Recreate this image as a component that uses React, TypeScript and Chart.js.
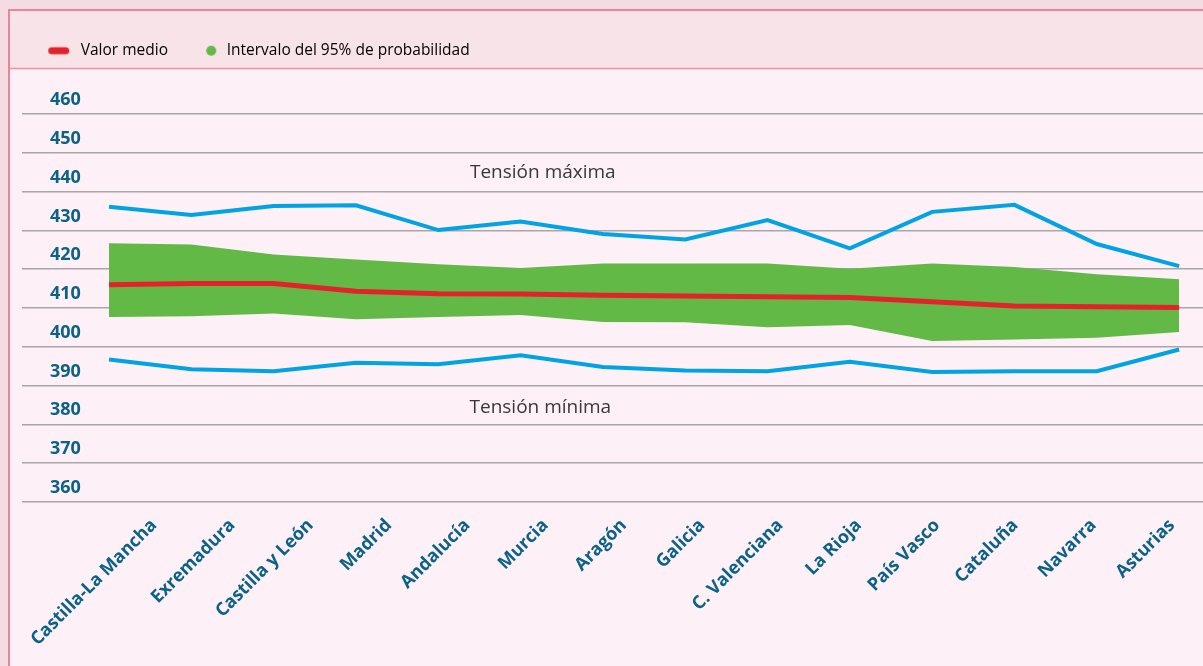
import React, { useEffect, useRef } from 'react';
import { Chart, registerables } from 'chart.js';

Chart.register(...registerables);

const regions = [
  'Castilla-La Mancha', 'Exremadura', 'Castilla y León', 'Madrid', 'Andalucía', 'Murcia', 'Aragón',
  'Galicia', 'C. Valenciana', 'La Rioja', 'País Vasco', 'Cataluña', 'Navarra', 'Asturias',
];
const tensionMaxima = [436.1, 434.0, 436.3, 436.5, 430.1, 432.3, 429.1, 427.7, 432.7, 425.4, 434.8, 436.6, 426.5, 420.8];
const tensionMinima = [396.7, 394.2, 393.7, 395.9, 395.5, 397.8, 394.8, 393.9, 393.7, 396.1, 393.5, 393.7, 393.7, 399.3];
const intervaloSuperior = [426.7, 426.4, 423.8, 422.5, 421.3, 420.3, 421.5, 421.5, 421.5, 420.1, 421.5, 420.6, 418.7, 417.4];
const intervaloInferior = [407.7, 407.9, 408.6, 407.1, 407.7, 408.2, 406.4, 406.3, 405.0, 405.6, 401.5, 401.9, 402.3, 403.8];
const valorMedio = [416.0, 416.3, 416.3, 414.3, 413.7, 413.6, 413.3, 413.1, 412.9, 412.7, 411.6, 410.5, 410.3, 410.1];
const yTicks = [360, 370, 380, 390, 400, 410, 420, 430, 440, 450, 460];

const legendLabels = ['Valor medio', 'Intervalo del 95% de probabilidad'];
const annotations = [
  { text: 'Tensión máxima', x: 5.27, y: 444.8 },
  { text: 'Tensión mínima', x: 5.24, y: 384.4 },
];

const TEAL = '#0b6286';
const RED = '#e4222b';
const BLUE = '#00a3e4';
const GREEN = '#62b946';

const pts = (vals: number[]) => vals.map((v, i) => ({ x: i, y: v }));

const framePlugin = {
  id: 'frame',
  beforeDraw(chart: any) {
    const { ctx, width, height } = chart;
    ctx.save();
    ctx.fillStyle = '#f4dce2';
    ctx.fillRect(0, 0, width, height);
    ctx.fillStyle = '#f8e3e8';
    ctx.fillRect(10, 11, width - 10, 57);
    ctx.fillStyle = '#fdf0f6';
    ctx.fillRect(10, 69, width - 10, height - 69);
    ctx.strokeStyle = '#e8859d';
    ctx.lineWidth = 2;
    ctx.beginPath();
    ctx.moveTo(9, height);
    ctx.lineTo(9, 10);
    ctx.lineTo(width, 10);
    ctx.stroke();
    ctx.lineWidth = 1.5;
    ctx.strokeStyle = '#ec91a7';
    ctx.beginPath();
    ctx.moveTo(10, 68.5);
    ctx.lineTo(width, 68.5);
    ctx.stroke();
    ctx.restore();
  },
};

const annotationPlugin = {
  id: 'tensionLabels',
  afterDatasetsDraw(chart: any) {
    const { ctx } = chart;
    const xs = chart.scales.x;
    const ys = chart.scales.y;
    ctx.save();
    ctx.font = '19px "Open Sans"';
    ctx.fillStyle = '#383838';
    ctx.textAlign = 'center';
    ctx.textBaseline = 'middle';
    annotations.forEach((a) => {
      ctx.fillText(a.text, xs.getPixelForValue(a.x), ys.getPixelForValue(a.y));
    });
    ctx.restore();
  },
};

export default function App() {
  const ref = useRef<HTMLCanvasElement>(null);

  useEffect(() => {
    if (!ref.current) return;

    const redMarker = document.createElement('canvas');
    redMarker.width = 40;
    redMarker.height = 10;
    {
      const c = redMarker.getContext('2d')!;
      c.fillStyle = RED;
      c.beginPath();
      c.roundRect(3, 1.5, 21, 7, 3.5);
      c.fill();
    }
    const greenMarker = document.createElement('canvas');
    greenMarker.width = 12;
    greenMarker.height = 12;
    {
      const c = greenMarker.getContext('2d')!;
      c.fillStyle = GREEN;
      c.beginPath();
      c.arc(6, 6, 5, 0, Math.PI * 2);
      c.fill();
    }

    const chart = new Chart(ref.current, {
      type: 'line',
      data: {
        datasets: [
          {
            label: legendLabels[0],
            data: pts(valorMedio),
            borderColor: RED,
            borderWidth: 5,
            pointRadius: 0,
            fill: false,
            xAxisID: 'x',
            yAxisID: 'y',
          },
          {
            label: 'Tensión máxima',
            data: pts(tensionMaxima),
            borderColor: BLUE,
            borderWidth: 4,
            pointRadius: 0,
            fill: false,
            xAxisID: 'x',
            yAxisID: 'y',
          },
          {
            label: 'Tensión mínima',
            data: pts(tensionMinima),
            borderColor: BLUE,
            borderWidth: 4,
            pointRadius: 0,
            fill: false,
            xAxisID: 'x',
            yAxisID: 'y',
          },
          {
            label: legendLabels[1],
            data: pts(intervaloSuperior),
            borderWidth: 0,
            borderColor: 'rgba(0,0,0,0)',
            backgroundColor: GREEN,
            pointRadius: 0,
            fill: '+1',
            xAxisID: 'x',
            yAxisID: 'y',
          },
          {
            label: 'inferior',
            data: pts(intervaloInferior),
            borderWidth: 0,
            borderColor: 'rgba(0,0,0,0)',
            pointRadius: 0,
            fill: false,
            xAxisID: 'x',
            yAxisID: 'y',
          },
        ],
      },
      options: {
        responsive: false,
        animation: false,
        layout: { padding: { top: 7.5, left: 22, right: 0, bottom: 11 } },
        plugins: {
          tooltip: { enabled: false },
          legend: {
            position: 'top',
            align: 'start',
            labels: {
              usePointStyle: true,
              padding: 35.5,
              color: '#2e2e2e',
              font: { family: 'Open Sans', size: 15.5 },
              generateLabels: () => [
                { text: legendLabels[0], pointStyle: redMarker as any, lineWidth: 0, hidden: false, datasetIndex: 0, fillStyle: RED, strokeStyle: RED },
                { text: legendLabels[1], pointStyle: greenMarker as any, lineWidth: 0, hidden: false, datasetIndex: 3, fillStyle: GREEN, strokeStyle: GREEN },
              ],
            },
          },
        },
        scales: {
          x: {
            type: 'linear',
            min: -1.057,
            max: 13.29,
            display: false,
          },
          xl: {
            type: 'linear',
            position: 'bottom',
            min: -1.686,
            max: 13.397,
            grid: { display: false },
            border: { display: false },
            afterBuildTicks: (s: any) => {
              s.ticks = regions.map((_, i) => ({ value: i }));
            },
            ticks: {
              autoSkip: false,
              maxRotation: 45,
              minRotation: 45,
              padding: 5,
              color: TEAL,
              font: { family: 'Open Sans', weight: 'bold', size: 18 },
              callback: (_v: any, i: number) => regions[i],
            },
          },
          y: {
            type: 'linear',
            min: 360,
            max: 471.78,
            afterFit: (s: any) => {
              s.width = 0;
            },
            afterBuildTicks: (s: any) => {
              s.ticks = yTicks.map((v) => ({ value: v }));
            },
            grid: { color: '#a9a5a8', lineWidth: 1.5, drawTicks: false },
            border: { display: false },
            ticks: {
              mirror: true,
              padding: 28,
              labelOffset: -14,
              color: TEAL,
              font: { family: 'Open Sans', weight: 'bold', size: 18 },
            },
          },
        },
      } as any,
      plugins: [framePlugin, annotationPlugin],
    });
    return () => chart.destroy();
  }, []);

  return (
    <div style={{ position: 'fixed', left: 0, top: 0, width: 1203, height: 666 }}>
      <canvas ref={ref} width={1203} height={666} style={{ display: 'block' }} />
    </div>
  );
}
